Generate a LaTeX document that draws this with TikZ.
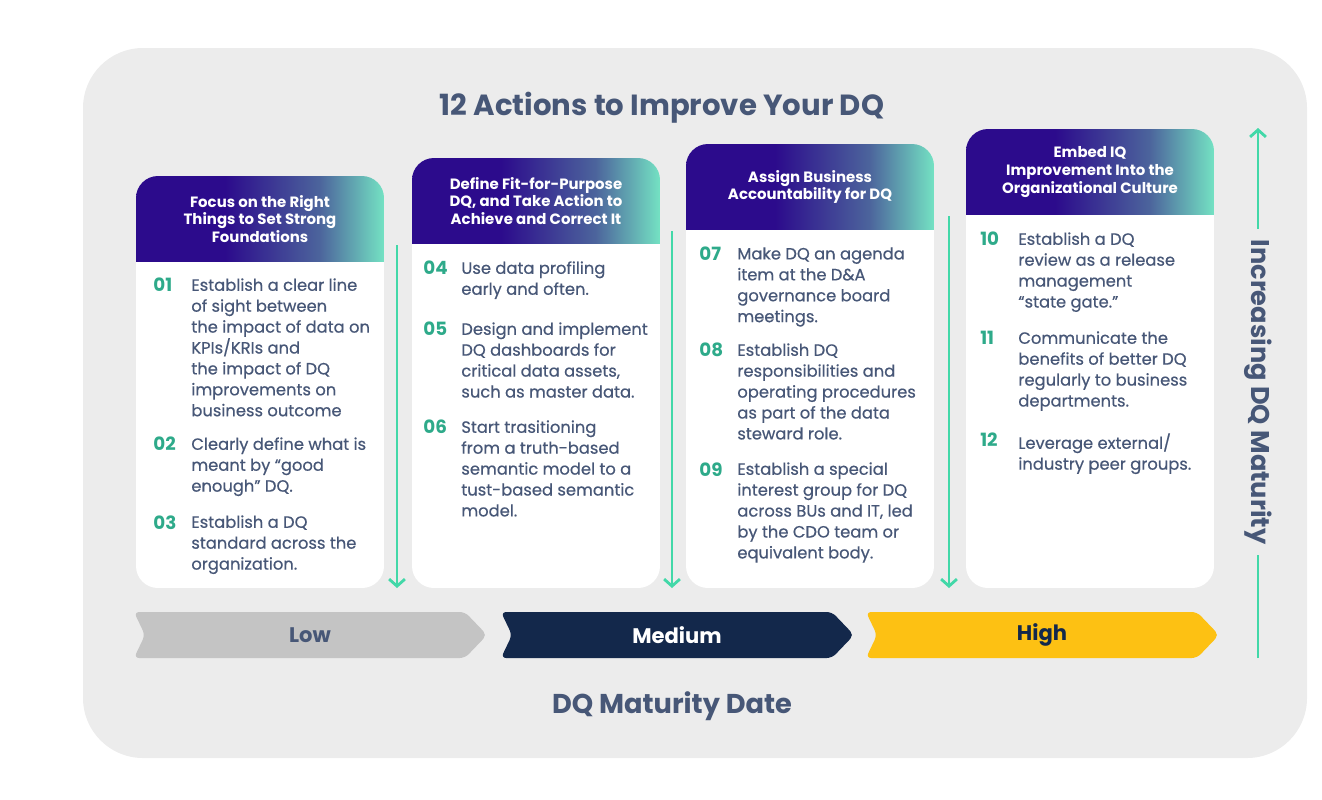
\documentclass[tikz,border=0pt]{standalone}
\usepackage{fontspec}
\setmainfont{Poppins}
\newfontfamily\itemfont{Poppins}[FakeBold=0.5]
\usetikzlibrary{arrows.meta}
\definecolor{panelgray}{HTML}{ECECEC}
\definecolor{slate}{HTML}{475777}
\definecolor{numteal}{HTML}{2EAA8A}
\definecolor{lineteal}{HTML}{42D8A8}
\definecolor{hdrA}{HTML}{2C0B8C}
\definecolor{hdrM}{HTML}{4C649C}
\definecolor{hdrB}{HTML}{74E2C3}
\definecolor{lowgray}{HTML}{C4C4C4}
\definecolor{navy}{HTML}{13284B}
\definecolor{amber}{HTML}{FDC113}
\pgfdeclarehorizontalshading{hdrshade}{100bp}{color(0bp)=(hdrA); color(25bp)=(hdrA); color(43bp)=(hdrA); color(62bp)=(hdrM); color(75bp)=(hdrB); color(100bp)=(hdrB)}
\begin{document}
\begin{tikzpicture}[x=0.02cm, y=-0.02cm]
    \tikzset{hdrtext/.style={text=white, font=\fontsize{8.5}{10}\selectfont\bfseries, align=center}}
    \tikzset{itemtext/.style={text=slate, font=\fontsize{9.3}{11.9}\itemfont, align=left, anchor=north west, inner sep=0}}
    \tikzset{itemnum/.style={text=numteal, font=\fontsize{10.4}{11.9}\selectfont\bfseries, anchor=north west, inner sep=0}}
    \tikzset{bigtext/.style={text=slate, font=\fontsize{15.5}{18}\selectfont\bfseries}}
    \tikzset{chevtext/.style={font=\fontsize{12}{15}\selectfont\bfseries}}
    \tikzset{flow/.style={lineteal, line width=1.6pt, -{Straight Barb[length=4pt,width=9pt]}}}
    \useasboundingbox (0, 0) rectangle (1322, 799);
    % grey panel
    \fill[panelgray, rounded corners=1.2cm] (83, 48) rectangle (1307, 758);
    \node[bigtext, font=\fontsize{16.6}{18}\selectfont\bfseries] (title) at (662, 108) {12 Actions to Improve Your DQ};
    \node[bigtext] (datelabel) at (672, 706) {DQ Maturity Date};
    % the four cards
    \foreach \n/\x/\yt/\head in {1/136/176/{Focus on the Right\\Things to Set Strong\\Foundations},
        2/412/158/{Define Fit-for-Purpose\\DQ, and Take Action to\\Achieve and Correct It},
        3/686/144/{Assign Business\\Accountability for DQ},
        4/966/129/{Embed IQ\\Improvement Into the\\Organizational Culture}} {
        \begin{scope}
            \clip[rounded corners=0.44cm] (\x, \yt) rectangle (\x+248, 588);
            \shade[shading=hdrshade] (\x, \yt) rectangle (\x+248, \yt+86);
            \fill[white] (\x, \yt+86) rectangle (\x+248, 588);
        \end{scope}
        \node[hdrtext] (head\n) at (\x+124, \yt+43) {\head};
    }
    % items
    \foreach \num/\x/\y/\txt in {01/153/278/{Establish a clear line\\of sight between\\the impact of data on\\KPIs/KRIs and\\the impact of DQ\\improvements on\\business outcome},
        02/153/437/{Clearly define what is\\meant by “good\\enough” DQ.},
        03/153/515/{Establish a DQ\\standard across the\\organization.},
        04/423/261/{Use data profiling\\early and often.},
        05/423/322/{Design and implement\\DQ dashboards for\\critical data assets,\\such as master data.},
        06/423/420/{Start trasitioning\\from a truth-based\\semantic model to a\\tust-based semantic\\model.},
        07/699/247/{Make DQ an agenda\\item at the D\&A\\governance board\\meetings.},
        08/699/343/{Establish DQ\\responsibilities and\\operating procedures\\as part of the data\\steward role.},
        09/699/462/{Establish a special\\interest group for DQ\\across BUs and IT, led\\by the CDO team or\\equivalent body.},
        10/980/232/{Establish a DQ\\review as a release\\management\\“state gate.”},
        11/980/331/{Communicate the\\benefits of better DQ\\regularly to business\\departments.},
        12/980/433/{Leverage external/\\industry peer groups.}} {
        \node[itemnum] (n\num) at (\x, \y) {\num};
        \node[itemtext] (t\num) at (\x+38, \y) {\txt};
    }
    % arrows between cards
    \foreach \k/\x/\ys in {1/397/245, 2/672/231, 3/949/216} {
        \coordinate (down\k) at (\x, \ys);
        \coordinate (downend\k) at (\x, 588);
        \draw[flow] (down\k) -- (downend\k);
    }
    % maturity chevrons
    \foreach \name/\x/\col/\tcol/\lab in {low/134/lowgray/slate/Low, medium/501/navy/white/Medium, high/866/amber/navy/High} {
        \fill[\col, rounded corners=3pt] (\x, 612) -- (\x+331, 612) -- (\x+353, 635) -- (\x+331, 658) -- (\x, 658) -- (\x+11, 635) -- cycle;
        \node[chevtext, text=\tcol] (\name) at (\x+176, 635) {\lab};
    }
    % increasing maturity axis
    \node[bigtext, font=\fontsize{14.6}{18}\selectfont\bfseries, rotate=-90, inner xsep=6pt, inner ysep=0pt] (incr) at (1258, 392) {Increasing DQ Maturity};
    \coordinate (incrtop) at (1258, 128);
    \coordinate (incrbot) at (1258, 658);
    \draw[flow] (incr.west) -- (incrtop);
    \draw[lineteal, line width=1.6pt] (incrbot) -- (incr.east);
\end{tikzpicture}
\end{document}
